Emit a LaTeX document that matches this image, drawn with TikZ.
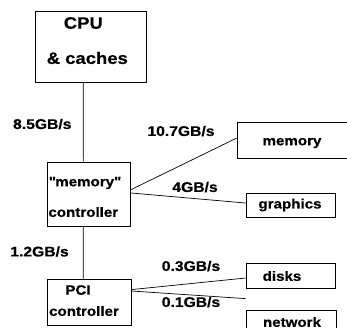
\documentclass[tikz,border=0pt]{standalone}
\usepackage{fontspec}
\setmainfont{Liberation Sans Bold}[FakeStretch=1.12, FakeBold=0.6]
\begin{document}
\begin{tikzpicture}[x=1pt,y=-1pt,
  box/.style={draw, line width=0.8pt, inner sep=0pt},
  big/.style={font=\fontsize{16.5}{18}\selectfont, inner sep=0pt},
  txt/.style={font=\fontsize{13.5}{15}\selectfont, inner sep=0pt},
  lbl/.style={font=\fontsize{14}{16}\selectfont, inner sep=0pt},
  wire/.style={line width=0.7pt}]
\useasboundingbox (0,0) rectangle (347,327);
% boxes
\node[box, minimum width=111pt, minimum height=71pt] (cpu) at (90.5,46.5) {};
\node[box, minimum width=83.7pt, minimum height=64pt] (mc) at (88.85,194) {};
\node[box, minimum width=84pt, minimum height=46pt] (pci) at (89,302) {};
\node[box, minimum width=113pt, minimum height=36pt] (mem) at (293.5,140.3) {};
\node[box, minimum width=89pt, minimum height=24pt] (gfx) at (290.5,205) {};
\node[box, minimum width=89pt, minimum height=25pt] (dsk) at (290.5,275.5) {};
\node[box, minimum width=90pt, minimum height=30pt] (net) at (291,325) {};
% box texts
\node[big] (t1) at (83.3,23) {CPU};
\node[big] (t2) at (87.3,58) {\& caches};
\node[txt] (t3) at (84.7,183) {\textquotedbl memory\textquotedbl};
\node[txt] (t4) at (83.3,212) {controller};
\node[txt] (t5) at (78,290) {PCI};
\node[txt] (t6) at (84,311) {controller};
\node[txt] (t7) at (292,143) {memory};
\node[txt] (t8) at (290,205) {graphics};
\node[txt] (t9) at (282,276) {disks};
\node[txt] (t10) at (292,322) {network};
% labels
\node[lbl] (l1) at (42.3,124) {8.5GB/s};
\node[lbl] (l2) at (39.5,251.5) {1.2GB/s};
\node[lbl] (l3) at (181,131) {10.7GB/s};
\node[lbl] (l4) at (195,187) {4GB/s};
\node[lbl] (l5) at (191,266) {0.3GB/s};
\node[lbl] (l6) at (191,302) {0.1GB/s};
% connectors
\draw[wire] ([xshift=-7.2pt]cpu.south) -- ([xshift=-5.5pt]mc.north);
\draw[wire] ([xshift=-5.5pt]mc.south) -- ([xshift=-5.7pt]pci.north);
\draw[wire] ([yshift=-28pt]mc.north east) -- ([yshift=2.2pt]mem.west);
\draw[wire] ([yshift=1pt]mc.east) -- ([yshift=2pt]gfx.west);
\draw[wire] ([yshift=-11pt]pci.north east) -- ([yshift=-2.5pt]dsk.west);
\draw[wire] ([yshift=11pt]pci.east) -- ([yshift=11pt]net.north west);
\end{tikzpicture}
\end{document}
